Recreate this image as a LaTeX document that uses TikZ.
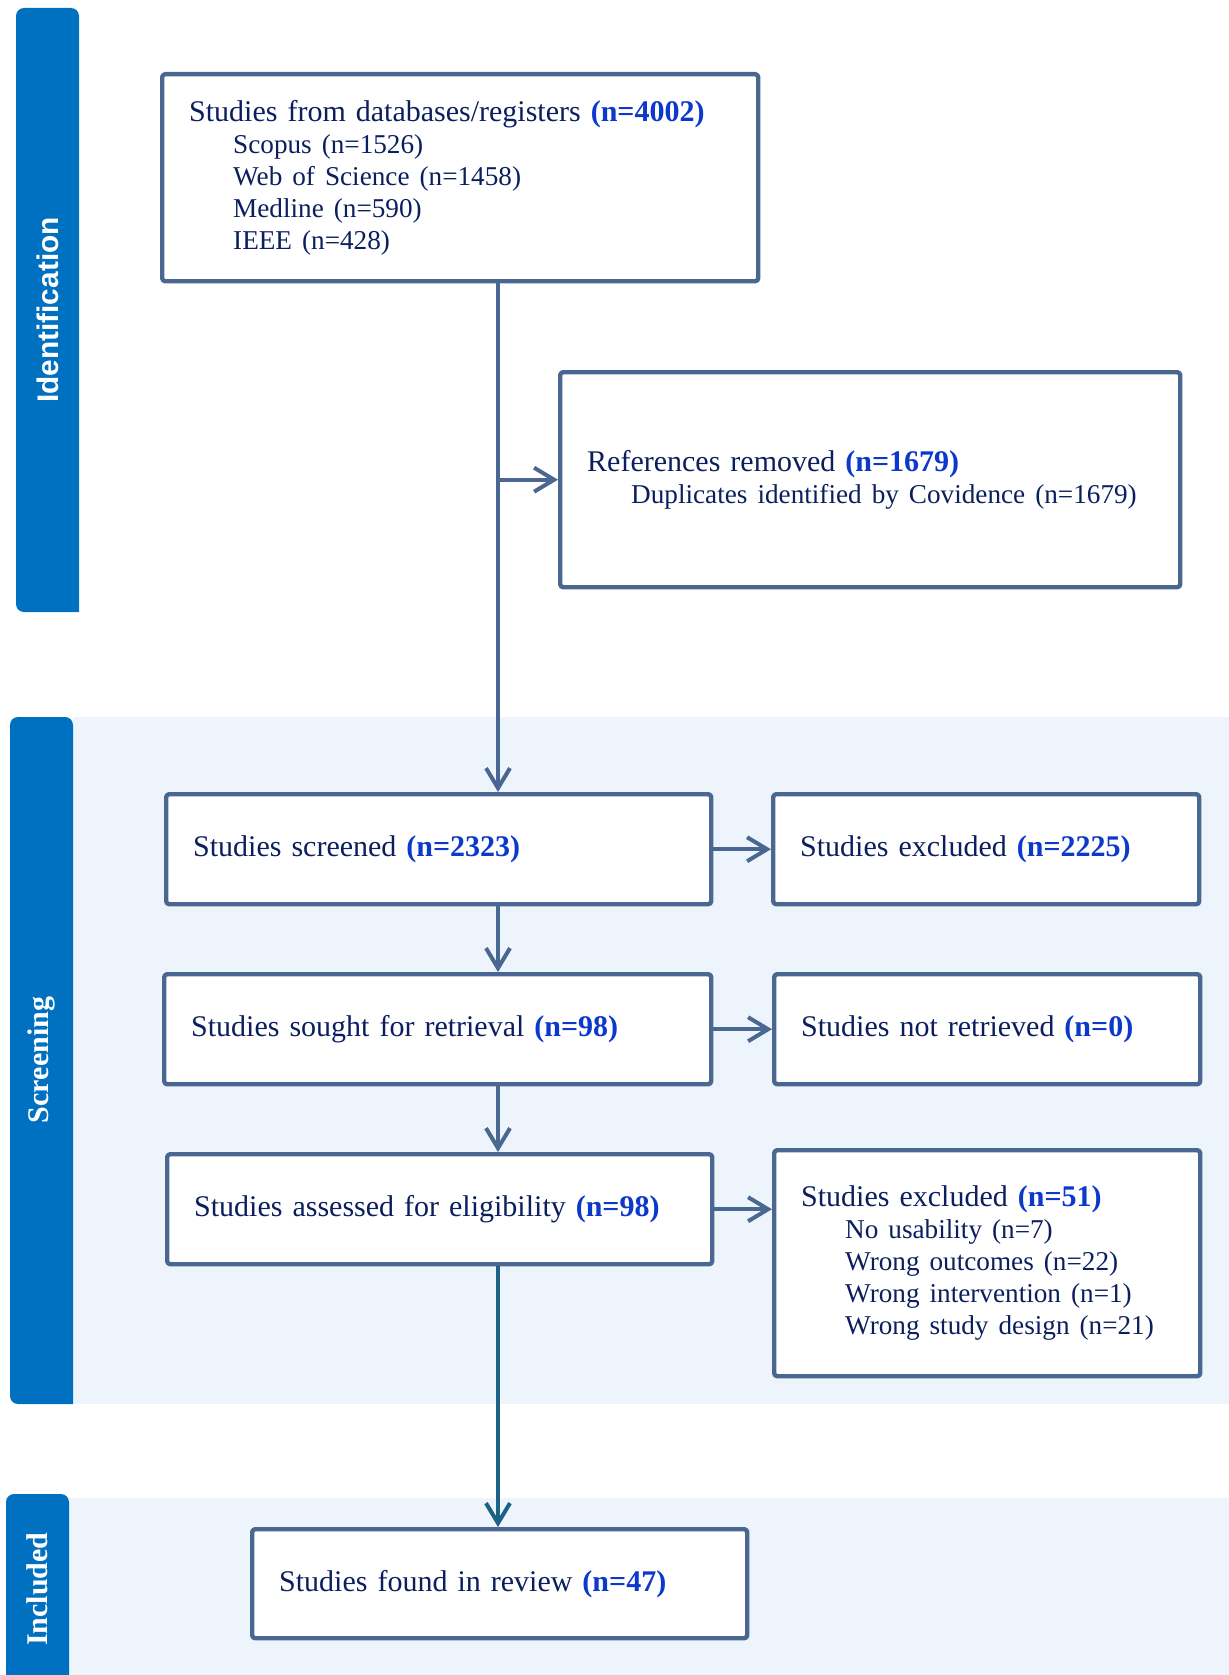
\documentclass[tikz,border=0pt]{standalone}
\usepackage{fontspec}
\setmainfont{Liberation Serif}
\newfontfamily\barsans{Liberation Sans}
\usetikzlibrary{arrows.meta}
\definecolor{barblue}{HTML}{0070C0}
\definecolor{paleblue}{HTML}{EDF4FC}
\definecolor{boxline}{HTML}{4A6791}
\definecolor{textnavy}{HTML}{0B1F5E}
\definecolor{numblue}{HTML}{0C38CC}
\definecolor{tealline}{HTML}{1B6285}
\newcommand{\cnt}[1]{\textcolor{numblue}{\textbf{(#1)}}}
\newcommand{\subline}[1]{\\\hspace*{22pt}{\fontsize{13.6}{16}\selectfont #1}}
\begin{document}
\begin{tikzpicture}[x=0.5pt,y=-0.5pt,line join=round,
	box/.style={draw=boxline,line width=2.2pt,rounded corners=1.5pt,fill=white,anchor=north west,
		inner xsep=13.5pt,inner ysep=0pt,align=left,text=textnavy,font=\fontsize{15}{16}\selectfont},
	flow/.style={draw=boxline,line width=2pt,-{Straight Barb[length=10pt,width=12pt]}},
	barlabel/.style={rotate=90,text=white,font=\fontsize{15}{15}\selectfont\bfseries}]
			\useasboundingbox (0,0) rectangle (1229,1675);
			\fill[barblue] (79,612) [rounded corners=4pt] -- (16,612) -- (16,8) -- (79,8) [sharp corners] -- cycle;
			\fill[paleblue] (73,717) rectangle (1229,1404);
			\fill[barblue] (73,1404) [rounded corners=4pt] -- (10,1404) -- (10,717) -- (73,717) [sharp corners] -- cycle;
			\fill[paleblue] (69,1498) rectangle (1229,1675);
			\fill[barblue] (69,1675) -- (6,1675) [rounded corners=4pt] -- (6,1494) -- (69,1494) [sharp corners] -- cycle;
			\node[barlabel,font=\barsans\fontsize{14.9}{15}\selectfont\bfseries] (idlabel) at (47.5,310) {Identification};
			\node[barlabel] (scrlabel) at (41.5,1060) {Screening};
			\node[barlabel] (inclabel) at (37.5,1589) {Included};
			\node[box,text width=271pt,minimum height=103.5pt] (src) at (160,72) {Studies from databases/registers \cnt{n=4002}
				\subline{Scopus (n=1526)}
				\subline{Web of Science (n=1458)}
				\subline{Medline (n=590)}
				\subline{IEEE (n=428)}};
			\node[box,text width=283pt,minimum height=107.5pt] (dup) at (558,370) {References removed \cnt{n=1679}
				\subline{Duplicates identified by Covidence (n=1679)}};
			\node[box,text width=245.5pt,minimum height=55pt] (scr) at (164,792) {Studies screened \cnt{n=2323}};
			\node[box,text width=186pt,minimum height=55pt] (exc1) at (771,792) {Studies excluded \cnt{n=2225}};
			\node[box,text width=246.5pt,minimum height=55pt] (sought) at (162,972) {Studies sought for retrieval \cnt{n=98}};
			\node[box,text width=186pt,minimum height=55pt] (notret) at (772,972) {Studies not retrieved \cnt{n=0}};
			\node[box,text width=245.5pt,minimum height=55pt] (elig) at (165,1152) {Studies assessed for eligibility \cnt{n=98}};
			\node[box,text width=186pt,minimum height=113pt] (exc2) at (772,1148) {Studies excluded \cnt{n=51}
				\subline{No usability (n=7)}
				\subline{Wrong outcomes (n=22)}
				\subline{Wrong intervention (n=1)}
				\subline{Wrong study design (n=21)}};
			\node[box,text width=220.5pt,minimum height=54.5pt] (incl) at (250,1527) {Studies found in review \cnt{n=47}};
			\coordinate (spine) at (498,0);
			\draw[flow] (src.south -| spine) -- (scr.north -| spine);
			\draw[flow] (spine |- dup.west) -- (dup.west);
			\draw[flow] (scr.south -| spine) -- (sought.north -| spine);
			\draw[flow] (sought.south -| spine) -- (elig.north -| spine);
			\draw[flow,draw=tealline] (elig.south -| spine) -- (incl.north -| spine);
			\draw[flow] (scr.east) -- (exc1.west);
			\draw[flow] (sought.east) -- (notret.west);
			\draw[flow] (elig.east) -- (elig.east -| exc2.west);
		\end{tikzpicture}
\end{document}
